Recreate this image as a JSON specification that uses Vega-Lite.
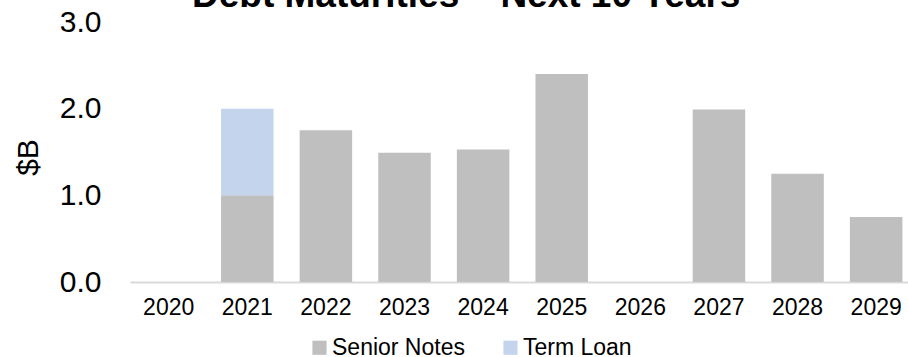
{
  "$schema": "https://vega.github.io/schema/vega-lite/v6.json",
  "width": 778,
  "height": 260,
  "autosize": {"type": "none"},
  "padding": {"left": 130, "top": 22, "right": 0, "bottom": 75},
  "background": "white",
  "title": {
    "text": "Debt Maturities – Next 10 Years",
    "font": "Liberation Sans",
    "fontSize": 37,
    "fontWeight": "bold",
    "color": "black",
    "anchor": "start",
    "frame": "group",
    "baseline": "alphabetic",
    "dx": 62,
    "dy": 37,
    "offset": 0
  },
  "data": {
    "values": [
      {"Year": "2021", "Type": "Senior Notes", "Amount": 1.0},
      {"Year": "2021", "Type": "Term Loan", "Amount": 1.0},
      {"Year": "2022", "Type": "Senior Notes", "Amount": 1.75},
      {"Year": "2023", "Type": "Senior Notes", "Amount": 1.49},
      {"Year": "2024", "Type": "Senior Notes", "Amount": 1.53},
      {"Year": "2025", "Type": "Senior Notes", "Amount": 2.4},
      {"Year": "2027", "Type": "Senior Notes", "Amount": 1.99},
      {"Year": "2028", "Type": "Senior Notes", "Amount": 1.25},
      {"Year": "2029", "Type": "Senior Notes", "Amount": 0.75}
    ]
  },
  "mark": {"type": "bar"},
  "encoding": {
    "x": {
      "field": "Year",
      "type": "ordinal",
      "scale": {
        "domain": ["2020", "2021", "2022", "2023", "2024", "2025", "2026", "2027", "2028", "2029"],
        "paddingInner": 0.332,
        "paddingOuter": 0.1145,
        "align": 0.69
      },
      "axis": {
        "title": null,
        "labelAngle": 0,
        "labelFontSize": 23,
        "labelFont": "Liberation Sans",
        "labelColor": "black",
        "labelPadding": 14,
        "ticks": false,
        "domainColor": "#d9d9d9",
        "domainWidth": 2
      }
    },
    "y": {
      "field": "Amount",
      "type": "quantitative",
      "stack": "zero",
      "scale": {"domain": [0, 3], "nice": false},
      "axis": {
        "title": "$B",
        "titleFont": "Liberation Sans",
        "titleFontSize": 30,
        "titleFontWeight": "normal",
        "titleColor": "black",
        "titlePadding": 16,
        "titleY": 135,
        "values": [0, 1, 2, 3],
        "format": ".1f",
        "labelFont": "Liberation Sans",
        "labelFontSize": 30,
        "labelColor": "black",
        "labelPadding": 29,
        "ticks": false,
        "domain": false,
        "grid": false
      }
    },
    "color": {
      "field": "Type",
      "type": "nominal",
      "scale": {"domain": ["Senior Notes", "Term Loan"], "range": ["#bfbfbf", "#c4d4ec"]},
      "legend": {
        "title": null,
        "orient": "none",
        "direction": "horizontal",
        "legendX": 178,
        "legendY": 314,
        "symbolType": "square",
        "symbolSize": 200,
        "symbolOpacity": 1,
        "symbolStrokeWidth": 0,
        "labelFont": "Liberation Sans",
        "labelFontSize": 23,
        "labelColor": "black",
        "labelOffset": 1,
        "columnPadding": 34,
        "padding": 0
      }
    },
    "order": {"field": "Type", "sort": "ascending"}
  },
  "config": {
    "view": {"stroke": null}
  }
}
